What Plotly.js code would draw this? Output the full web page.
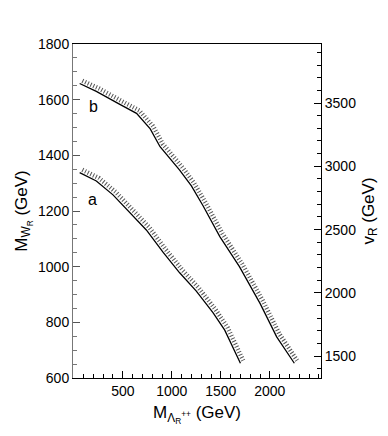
<!DOCTYPE html>
<html>
<head>
<meta charset="utf-8">
<script src="https://cdn.plot.ly/plotly-3.0.1.min.js"></script>
<style>
  html, body { margin: 0; padding: 0; background: #fff; }
  #chart { width: 388px; height: 436px; }
</style>
</head>
<body>
<div id="chart"></div>
<script>
// Curve a: M_W_R lower bound vs M_Lambda_R^{++} (GeV)
const massA = [60, 230, 400, 570, 740, 910, 1080, 1250, 1420, 1540, 1700];
const wrA = [1338, 1308, 1258, 1195, 1132, 1052, 978, 912, 835, 772, 653];

// Curve b
const massB = [60, 230, 470, 640, 780, 880, 1080, 1200, 1320, 1490, 1690, 1900, 2070, 2250];
const wrB = [1658, 1630, 1583, 1551, 1495, 1431, 1347, 1290, 1218, 1108, 1000, 868, 748, 653];

const curveNames = ["a", "b"];
const labelMass = [191, 197];
const labelWr = [1242, 1575];

const xTickVals = [500, 1000, 1500, 2000];

const FONT = "Liberation Sans, Arial, Helvetica, sans-serif";
// hatch = thick dashed line drawn ~3px to the upper right of each curve
const HATCH_DX = 28;
const HATCH_DY = 10;

function hatch(x, y) {
  return {
    x: x.map((v) => v + HATCH_DX),
    y: y.map((v) => v + HATCH_DY),
    type: "scatter",
    mode: "lines",
    line: { color: "#555", width: 4.5, dash: "1px,2px" },
    hoverinfo: "skip",
    showlegend: false,
  };
}

function curve(x, y) {
  return {
    x, y,
    type: "scatter",
    mode: "lines",
    line: { color: "#000", width: 1.3 },
    showlegend: false,
  };
}

const traces = [
  hatch(massA, wrA),
  hatch(massB, wrB),
  curve(massA, wrA),
  curve(massB, wrB),
  // empty trace so the v_R axis gets drawn
  { x: [], y: [], yaxis: "y2", type: "scatter", showlegend: false },
];

const layout = {
  width: 388,
  height: 436,
  paper_bgcolor: "#fff",
  plot_bgcolor: "#fff",
  font: { family: FONT, size: 14, color: "#000" },
  margin: { l: 73, r: 67, t: 44, b: 58 },
  showlegend: false,
  xaxis: {
    range: [-8, 2522],
    tickmode: "array",
    tickvals: xTickVals,
    ticks: "inside",
    ticklen: 7,
    tickcolor: "#000",
    minor: { tickmode: "linear", tick0: 0, dtick: 100, ticks: "inside", ticklen: 4, tickcolor: "#000" },
    showgrid: false,
    zeroline: false,
    showline: true,
    linecolor: "#000",
    mirror: true,
    title: { text: "M<sub>Λ<sub>R</sub><sup>++</sup></sub> (GeV)", font: { size: 17 }, standoff: 8 },
  },
  yaxis: {
    range: [600, 1800],
    dtick: 200,
    ticks: "inside",
    ticklen: 7,
    tickcolor: "#555",
    minor: { dtick: 50, ticks: "inside", ticklen: 4, tickcolor: "#777" },
    showgrid: false,
    zeroline: false,
    showline: true,
    linecolor: "#777",
    title: { text: "M<sub>W<sub>R</sub></sub> (GeV)", font: { size: 17 }, standoff: 6 },
  },
  yaxis2: {
    overlaying: "y",
    side: "right",
    range: [1328, 3966],
    tick0: 0,
    dtick: 500,
    ticks: "inside",
    ticklen: 7,
    tickcolor: "#000",
    minor: { dtick: 100, ticks: "inside", ticklen: 4, tickcolor: "#000" },
    showgrid: false,
    zeroline: false,
    showline: true,
    linecolor: "#000",
    title: { text: "v<sub>R</sub> (GeV)", font: { size: 17 }, standoff: 6 },
  },
  annotations: curveNames.map((name, i) => ({
    x: labelMass[i],
    y: labelWr[i],
    text: name,
    showarrow: false,
    font: { size: 16, color: "#000" },
  })),
};

Plotly.newPlot("chart", traces, layout, { displayModeBar: false, staticPlot: true });
</script>
</body>
</html>
